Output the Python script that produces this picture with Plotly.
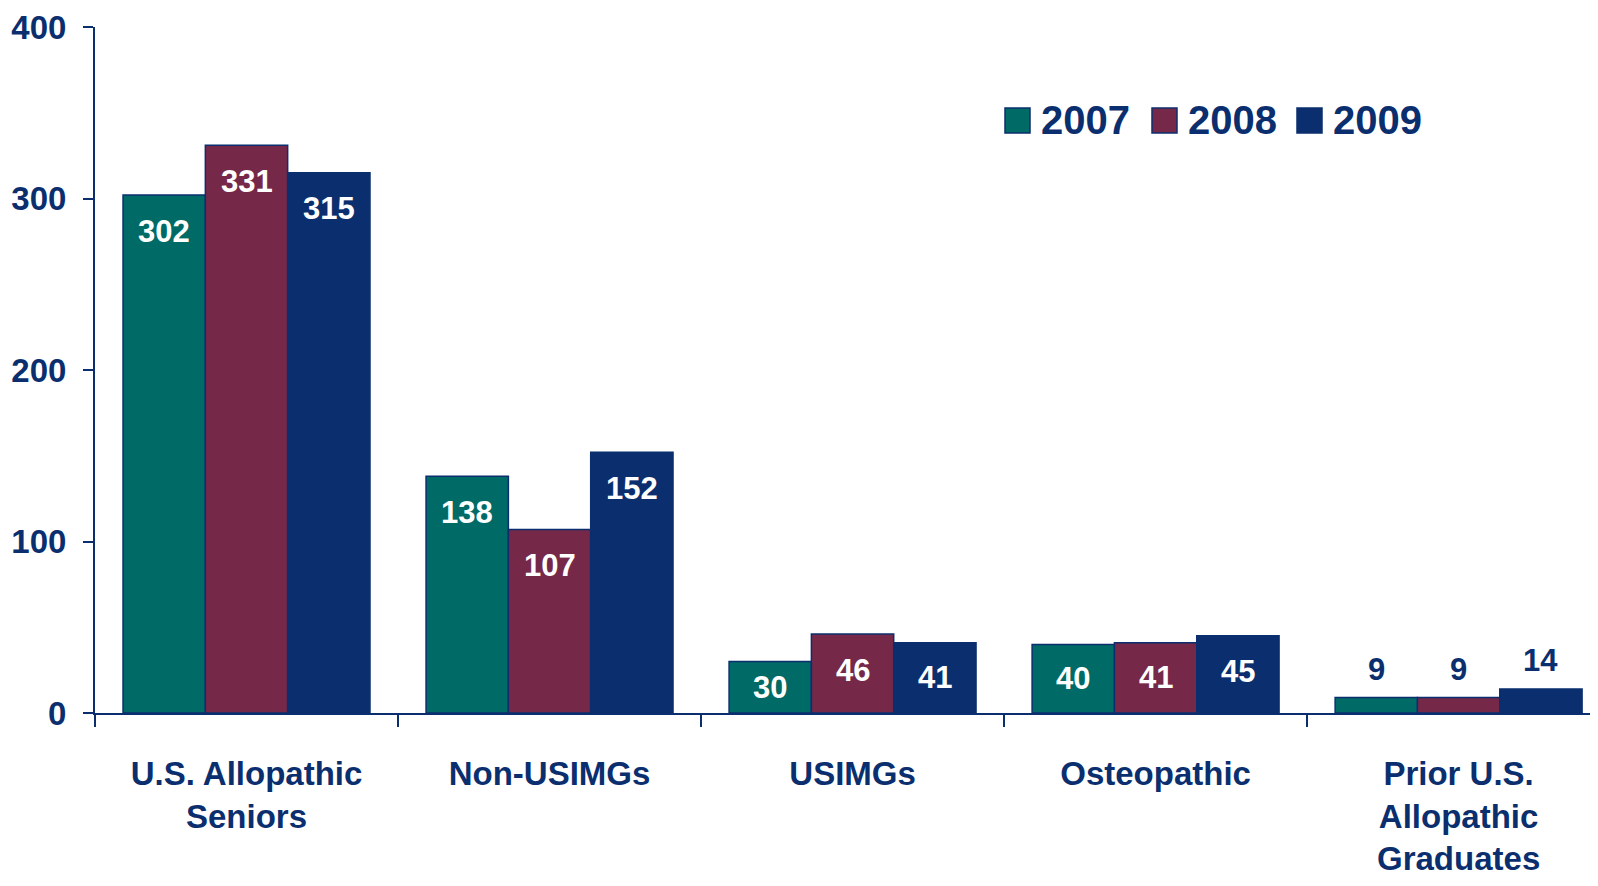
import plotly.graph_objects as go

categories = ["U.S. Allopathic<br>Seniors", "Non-USIMGs", "USIMGs", "Osteopathic",
              "Prior U.S.<br>Allopathic<br>Graduates"]
years = ["2007", "2008", "2009"]
values_2007 = [302, 138, 30, 40, 9]
values_2008 = [331, 107, 46, 41, 9]
values_2009 = [315, 152, 41, 45, 14]
y_ticks = [0, 100, 200, 300, 400]

NAVY = "#0b2f6e"
FONT = "Liberation Sans, Arial, sans-serif"
colors = ["#006a66", "#762849", "#0b2f6e"]

# the page body has an 8px margin; size the figure so the plot sits where the original does
OFF = 8
W, H = 1598 - OFF, 886 - OFF
ML, MR, MT = 95 - OFF, 0, 27 - OFF
MB = H - (713 - OFF)
XR = [-0.5, 4.46]
YR = [0, 400]
BARGAP = 0.185
plot_w = W - ML - MR
plot_h = H - MT - MB
cat_px = plot_w / (XR[1] - XR[0])
bar_px = cat_px * (1 - BARGAP) / len(years)
px_per_unit = plot_h / (YR[1] - YR[0])

fig = go.Figure()
series = [values_2007, values_2008, values_2009]
for i, (yr, vals, col) in enumerate(zip(years, series, colors)):
    fig.add_trace(go.Bar(
        name=yr, x=categories, y=vals, showlegend=False,
        marker=dict(color=col, line=dict(color=NAVY, width=1.5)),
    ))
    for cat, v in zip(categories, vals):
        h = v * px_per_unit
        inside = v >= 25
        fig.add_annotation(
            x=cat, y=v, xref="x", yref="y", text=str(v), showarrow=False,
            xshift=(i - 1) * bar_px, yanchor="middle",
            yshift=-min(36, h * 0.5) if inside else 28,
            font=dict(family=FONT, size=31, color="white" if inside else NAVY,
                      weight="bold"),
        )

# legend (drawn to match the large square swatches of the original); page pixel positions
def px_to_paper_x(px):
    return (px - OFF - ML) / plot_w

def px_to_paper_y(py):
    return (H - MB - (py - OFF)) / plot_h

legend_x = [1005, 1152, 1297]
for yr, col, lx in zip(years, colors, legend_x):
    fig.add_shape(type="rect", xref="paper", yref="paper",
                  x0=px_to_paper_x(lx), x1=px_to_paper_x(lx + 25),
                  y0=px_to_paper_y(133), y1=px_to_paper_y(108),
                  fillcolor=col, line=dict(color=NAVY, width=1.5))
    fig.add_annotation(xref="paper", yref="paper", x=px_to_paper_x(lx + 34),
                       y=px_to_paper_y(120), text=yr, showarrow=False,
                       xanchor="left", yanchor="middle",
                       font=dict(family=FONT, size=40, color=NAVY, weight="bold"))

fig.update_layout(
    barmode="group", bargap=BARGAP, bargroupgap=0,
    width=W, height=H,
    margin=dict(l=ML, r=MR, t=MT, b=MB, autoexpand=False),
    plot_bgcolor="white", paper_bgcolor="white",
    font=dict(family=FONT, color=NAVY, weight="bold"),
    showlegend=False,
    xaxis=dict(range=XR, showline=True, linecolor=NAVY, linewidth=2, automargin=False,
               ticks="outside", tickson="boundaries", ticklen=12, tickcolor=NAVY,
               tickwidth=2, ticklabelstandoff=30,
               tickfont=dict(family=FONT, size=33, color=NAVY, weight="bold"),
               showgrid=False),
    yaxis=dict(range=YR, tickvals=y_ticks, showline=True, linecolor=NAVY, automargin=False,
               linewidth=2, ticks="outside", ticklen=10, tickcolor=NAVY, tickwidth=2,
               ticklabelstandoff=10,
               tickfont=dict(family=FONT, size=33, color=NAVY, weight="bold"),
               showgrid=False, zeroline=False),
)

fig.write_html("out.html")
